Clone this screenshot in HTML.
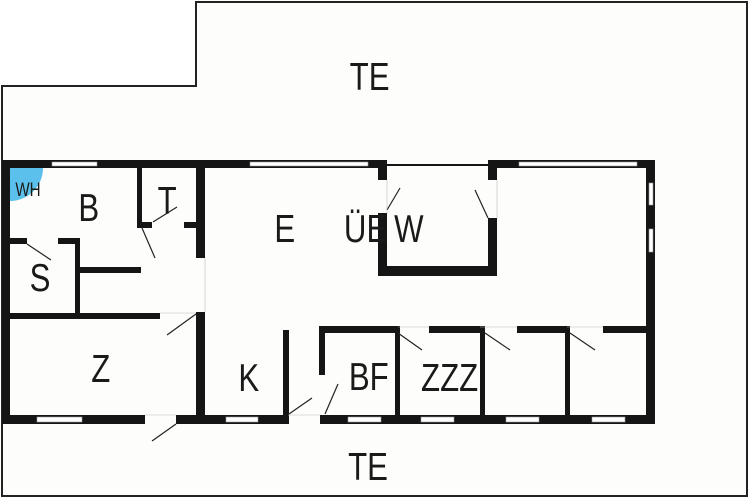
<!DOCTYPE html>
<html><head><meta charset="utf-8"><style>
html,body{margin:0;padding:0;background:#fff;}
svg{display:block}
text{font-family:"Liberation Sans",sans-serif;fill:#1a1a1a;}
</style></head><body>
<svg width="750" height="500" viewBox="0 0 750 500" xmlns="http://www.w3.org/2000/svg">
<rect width="750" height="500" fill="#fff"/>
<polygon points="2,86 196,86 196,2 747,2 747,496 2,496" fill="#fdfdfb" stroke="#222" stroke-width="2"/>
<rect x="2" y="160" width="653" height="264" fill="#fdfdfb"/>
<path d="M10,168 L43,168 A33,33 0 0 1 10,201 Z" fill="#5bc0eb"/>
<g fill="#151515">
<rect x="2" y="160" width="385" height="8"/>
<rect x="2" y="160" width="8" height="264"/>
<rect x="488" y="160" width="167" height="8"/>
<rect x="646" y="160" width="9" height="264"/>
<rect x="2" y="415" width="143" height="9"/>
<rect x="176" y="415" width="112" height="9"/>
<rect x="320" y="415" width="335" height="9"/>
<rect x="378" y="160" width="9" height="20"/>
<rect x="378" y="213" width="9" height="63"/>
<rect x="378" y="266" width="119" height="10"/>
<rect x="488" y="160" width="9" height="20"/>
<rect x="488" y="218" width="9" height="58"/>
<rect x="387" y="164" width="101" height="2"/>
<rect x="196" y="160" width="9" height="98"/>
<rect x="196" y="312" width="9" height="112"/>
<rect x="137" y="160" width="5" height="68"/>
<rect x="137" y="222" width="15" height="6"/>
<rect x="184" y="222" width="13" height="6"/>
<rect x="10" y="238" width="17" height="6"/>
<rect x="58" y="238" width="22" height="6"/>
<rect x="75" y="238" width="5" height="78"/>
<rect x="80" y="267" width="61" height="6"/>
<rect x="10" y="313" width="150" height="6"/>
<rect x="283" y="330" width="6" height="94"/>
<rect x="319" y="326" width="6" height="49"/>
<rect x="319" y="326" width="79" height="7"/>
<rect x="429" y="326" width="51" height="7"/>
<rect x="517" y="326" width="50" height="7"/>
<rect x="603" y="326" width="52" height="7"/>
<rect x="395" y="326" width="5" height="94"/>
<rect x="480" y="326" width="5" height="94"/>
<rect x="565" y="326" width="5" height="94"/>
</g>
<g fill="#fff" stroke="#999" stroke-width="0.6">
<rect x="52" y="162" width="45" height="4"/>
<rect x="250" y="162" width="118" height="4"/>
<rect x="519" y="162" width="118" height="4"/>
<rect x="649" y="183" width="4" height="22"/>
<rect x="649" y="229" width="4" height="23"/>
<rect x="37" y="417" width="45" height="5"/>
<rect x="226" y="417" width="32" height="5"/>
<rect x="348" y="417" width="33" height="5"/>
<rect x="421" y="417" width="33" height="5"/>
<rect x="506" y="417" width="33" height="5"/>
<rect x="592" y="417" width="33" height="5"/>
</g>
<g stroke="#222" stroke-width="1.2">
<line x1="153" y1="222" x2="177" y2="207"/>
<line x1="142" y1="228" x2="155" y2="258"/>
<line x1="27" y1="244" x2="51" y2="260"/>
<line x1="196" y1="314" x2="167" y2="335"/>
<line x1="176" y1="424" x2="152" y2="441"/>
<line x1="289" y1="414" x2="312" y2="398"/>
<line x1="325" y1="414" x2="338" y2="384"/>
<line x1="387" y1="210" x2="400" y2="188"/>
<line x1="488" y1="218" x2="475" y2="190"/>
<line x1="398" y1="333" x2="422" y2="350"/>
<line x1="485" y1="333" x2="510" y2="350"/>
<line x1="570" y1="333" x2="595" y2="350"/>
</g>
<g stroke="#bbb" stroke-width="0.6" fill="none">
<line x1="387" y1="180" x2="387" y2="213"/>
<line x1="497" y1="180" x2="497" y2="218"/>
<line x1="205" y1="258" x2="205" y2="312"/>
<line x1="288" y1="415" x2="320" y2="415"/>
<line x1="145" y1="415" x2="176" y2="415"/>
<line x1="160" y1="313" x2="196" y2="313"/>
<line x1="398" y1="327" x2="429" y2="327"/>
<line x1="480" y1="327" x2="517" y2="327"/>
<line x1="567" y1="327" x2="603" y2="327"/>
</g>
<g transform="scale(0.8,1)">
<text x="35" y="196" font-size="19" fill="#1a3a5a" text-anchor="middle">WH</text>
<g font-size="39" text-anchor="middle">
<text x="462" y="90">TE</text>
<text x="460" y="480">TE</text>
<text x="111" y="221">B</text>
<text x="209" y="214">T</text>
<text x="356" y="242">E</text>
<text x="457" y="242">ÜE</text>
<text x="511" y="242">W</text>
<text x="50" y="291">S</text>
<text x="126" y="382">Z</text>
<text x="311" y="391">K</text>
<text x="461" y="390">BF</text>
<text x="562" y="391">ZZZ</text>
</g>
</g>
</svg>
</body></html>
